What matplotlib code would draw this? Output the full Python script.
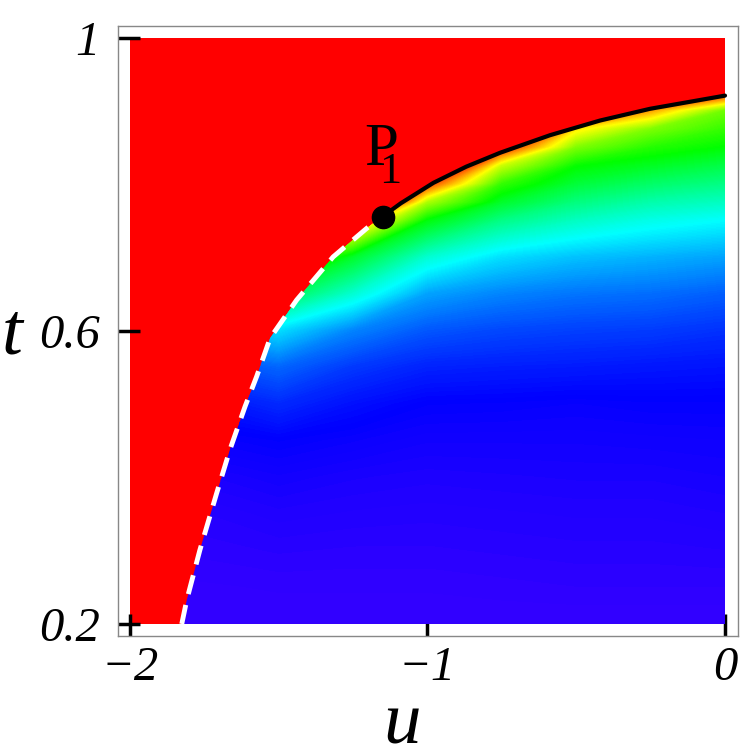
import numpy as np
import matplotlib
matplotlib.use("Agg")
import matplotlib.pyplot as plt
from matplotlib.colors import ListedColormap, Normalize, hsv_to_rgb
from matplotlib.patches import Polygon, Rectangle

# ---------------- data ----------------
u_range = [-2.0, 0.0]
t_range = [0.2, 1.0]

# grid of sample points for the hue field
u_grid = [-2.0, -1.75, -1.5, -1.25, -1.0, -0.75, -0.5, -0.25, 0.0]
t_grid = [0.20, 0.25, 0.30, 0.35, 0.40, 0.45, 0.50, 0.55, 0.60, 0.65, 0.70,
          0.75, 0.775, 0.80, 0.825, 0.85, 0.875, 0.90, 0.925, 0.95, 1.00]

# hue (0=red ... 0.7=violet-blue) along each u column, t ascending
hue_u_m200 = [0.700, 0.698, 0.694, 0.690, 0.683, 0.672, 0.655, 0.620, 0.550, 0.450, 0.300,
              0.100, -0.05, -0.20, -0.35, -0.50, -0.65, -0.80, -0.95, -1.10, -1.40]
hue_u_m175 = [0.700, 0.698, 0.694, 0.690, 0.683, 0.672, 0.655, 0.620, 0.550, 0.450, 0.300,
              0.100, -0.05, -0.20, -0.35, -0.50, -0.65, -0.80, -0.95, -1.10, -1.40]
hue_u_m150 = [0.700, 0.697, 0.692, 0.686, 0.678, 0.667, 0.640, 0.600, 0.520, 0.380, 0.200,
              0.000, -0.30, -0.50, -0.70, -0.90, -1.10, -1.30, -1.50, -1.70, -2.10]
hue_u_m125 = [0.700, 0.697, 0.693, 0.688, 0.682, 0.672, 0.657, 0.630, 0.580, 0.470, 0.360,
              0.080, -0.25, -0.60, -0.90, -1.20, -1.50, -1.80, -2.10, -2.40, -3.00]
hue_u_m100 = [0.700, 0.697, 0.693, 0.689, 0.684, 0.677, 0.667, 0.645, 0.610, 0.560, 0.470,
              0.340, 0.220, 0.030, -0.20, -0.50, -0.80, -1.10, -1.40, -1.70, -2.30]
hue_u_m075 = [0.700, 0.696, 0.692, 0.688, 0.683, 0.677, 0.668, 0.648, 0.620, 0.580, 0.520,
              0.420, 0.360, 0.300, 0.200, 0.000, -0.35, -0.70, -1.00, -1.30, -1.90]
hue_u_m050 = [0.700, 0.695, 0.691, 0.687, 0.682, 0.677, 0.670, 0.650, 0.625, 0.590, 0.540,
              0.460, 0.415, 0.370, 0.330, 0.250, 0.150, -0.15, -0.55, -0.90, -1.40]
hue_u_m025 = [0.700, 0.695, 0.691, 0.687, 0.682, 0.676, 0.668, 0.653, 0.628, 0.595, 0.550,
              0.485, 0.445, 0.400, 0.355, 0.310, 0.250, 0.100, -0.15, -0.50, -1.05]
hue_u_000 = [0.700, 0.695, 0.690, 0.685, 0.680, 0.675, 0.668, 0.655, 0.635, 0.605, 0.560,
             0.500, 0.460, 0.420, 0.380, 0.335, 0.300, 0.260, 0.000, -0.40, -1.00]

# solid black boundary (from P1 to u = 0)
u_black = [-1.151, -1.09, -0.98, -0.87, -0.756, -0.588, -0.42, -0.252, -0.084, 0.0]
t_black = [0.756, 0.774, 0.802, 0.824, 0.843, 0.867, 0.887, 0.903, 0.915, 0.921]

# white dashed boundary (from t = 0.2 up to P1)
u_dash = [-1.826, -1.809, -1.765, -1.709, -1.664, -1.613, -1.574, -1.529, -1.440, -1.317, -1.204, -1.151]
t_dash = [0.200, 0.233, 0.301, 0.378, 0.438, 0.497, 0.538, 0.590, 0.642, 0.701, 0.740, 0.756]

# point P1
p1_u = -1.151
p1_t = 0.756

x_ticks = [-2, -1, 0]
x_tick_labels = ["\u22122", "\u22121", "0"]
y_ticks = [0.2, 0.6, 1.0]
y_tick_labels = ["0.2", "0.6", "1"]

# ---------------- figure ----------------
W = 747
fig = plt.figure(figsize=(7.47, 7.47), dpi=100)
ax = fig.add_axes([118 / W, 1 - 636 / W, 620 / W, 610.3 / W])
ax.set_xlim(-2.0403, 0.0437)
ax.set_ylim(0.1836, 1.0164)

serif = "Liberation Serif"

# red background of the domain
ax.add_patch(Rectangle((u_range[0], t_range[0]), u_range[1] - u_range[0],
                       t_range[1] - t_range[0], facecolor="#ff0000",
                       edgecolor="none", zorder=1))

# hue field
H = np.column_stack([hue_u_m200, hue_u_m175, hue_u_m150, hue_u_m125, hue_u_m100,
                     hue_u_m075, hue_u_m050, hue_u_m025, hue_u_000])
U, T = np.meshgrid(u_grid, t_grid)
hmax = 0.72
hs = np.linspace(0, hmax, 512)
rgb = hsv_to_rgb(np.column_stack([hs, np.ones_like(hs), np.ones_like(hs)]))
cmap = ListedColormap(rgb)
cmap.set_under(hsv_to_rgb([0.03, 1.0, 1.0]))
levels = np.linspace(0, hmax, 289)
cs = ax.contourf(U, T, H, levels=levels, cmap=cmap, norm=Normalize(0, hmax),
                 extend="min", zorder=2, antialiased=False)

# clip field to region bounded by dashed + black curves
verts = list(zip(u_dash, t_dash)) + list(zip(u_black[1:], t_black[1:])) + [(u_range[1], t_range[0])]
clip = Polygon(verts, closed=True, transform=ax.transData, facecolor="none", edgecolor="none")
cs.set_clip_path(clip)

# curves
ax.plot(u_black, t_black, color="black", lw=3.0, solid_capstyle="round",
        solid_joinstyle="round", zorder=4)
ax.plot(u_dash, t_dash, color="white", lw=3.5, dashes=(4, 2.3), zorder=4)
ax.plot([p1_u], [p1_t], "o", color="black", ms=16, zorder=5)

# P1 label
ax.text(-1.213, 0.826, "P", fontfamily=serif, fontsize=44, ha="left", va="baseline", zorder=6)
ax.text(-1.124, 0.802, "1", fontfamily=serif, fontsize=32, ha="center", va="baseline", zorder=6)

# axes styling
for s in ax.spines.values():
    s.set_color("#888888")
    s.set_linewidth(1.0)
ax.set_xticks(x_ticks, labels=x_tick_labels, fontfamily=serif, fontstyle="italic", fontsize=35)
ax.set_yticks(y_ticks, labels=y_tick_labels, fontfamily=serif, fontstyle="italic", fontsize=35)
ax.tick_params(axis="both", direction="in", length=16, width=2.5, color="black")
ax.tick_params(axis="x", pad=7)
ax.tick_params(axis="y", pad=13)

fig.text(402 / W, 1 - 744 / W, "u", fontfamily=serif, fontstyle="italic", fontsize=54,
         ha="center", va="baseline")
fig.text(12.5 / W, 1 - 353 / W, "t", fontfamily=serif, fontstyle="italic", fontsize=54,
         ha="center", va="baseline")

fig.savefig("out.png", dpi=100)
